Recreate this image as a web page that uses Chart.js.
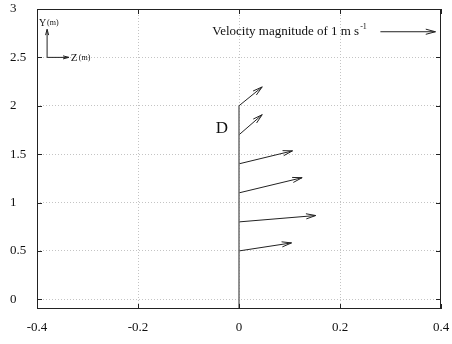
<!DOCTYPE html>
<html>
<head>
<meta charset="utf-8">
<script src="https://cdn.jsdelivr.net/npm/chart.js@4.4.0/dist/chart.umd.min.js"></script>
<style>
  body { margin: 0; background: #fff; }
  canvas { display: block; }
</style>
</head>
<body>
<canvas id="myChart" width="452" height="344"></canvas>
<script>
// velocity vectors: start on the pole at given heights, tips
const heights = [0.5, 0.8, 1.1, 1.4, 1.7, 2.0];
const tipZ = [0.104, 0.152, 0.125, 0.106, 0.046, 0.046];
const tipY = [0.583, 0.866, 1.257, 1.534, 1.908, 2.195];

const poleZ = [0, 0];
const poleY = [-0.1, 2.0];

// reference arrow (1 m/s)
const refZ = [0.28, 0.389];
const refY = [2.765, 2.765];
const refLabel = "Velocity magnitude of 1 m s";
const refSup = "-1";

// axis indicator in the corner
const axUpZ = [-0.380, -0.380];
const axUpY = [2.50, 2.79];
const axRightZ = [-0.380, -0.337];
const axRightY = [2.50, 2.50];

const siteLabel = "D";
const siteZ = -0.034, siteY = 1.765;

const xTicks = [-0.4, -0.2, 0, 0.2, 0.4];
const yTicks = [0, 0.5, 1, 1.5, 2, 2.5, 3];

const serif = "'Liberation Serif', 'Times New Roman', serif";

function seg(zs, ys, color, width, head) {
  return {
    data: zs.map((z, i) => ({x: z, y: ys[i]})),
    showLine: true,
    pointRadius: 0,
    borderColor: color,
    borderWidth: width,
    head: head
  };
}

const datasets = [seg(poleZ, poleY, "#6e6e6e", 1.5, 0)];
heights.forEach((h, i) => {
  datasets.push(seg([0, tipZ[i]], [h, tipY[i]], "#222", 1, 10));
});
datasets.push(seg(refZ, refY, "#222", 1, 10));
datasets.push(seg(axUpZ, axUpY, "#222", 1, 6));
datasets.push(seg(axRightZ, axRightY, "#222", 1, 6));

const extras = {
  id: "extras",
  afterDatasetsDraw(chart) {
    const ctx = chart.ctx;
    const a = chart.chartArea;
    const xs = chart.scales.x, ys = chart.scales.y;
    ctx.save();

    // arrow heads
    chart.data.datasets.forEach(ds => {
      if (!ds.head) return;
      const p = ds.data;
      const x1 = xs.getPixelForValue(p[0].x), y1 = ys.getPixelForValue(p[0].y);
      const x2 = xs.getPixelForValue(p[1].x), y2 = ys.getPixelForValue(p[1].y);
      const ang = Math.atan2(y2 - y1, x2 - x1);
      const L = ds.head, spread = 0.26;
      ctx.strokeStyle = ds.borderColor;
      ctx.lineWidth = 1;
      ctx.beginPath();
      ctx.moveTo(x2 - L * Math.cos(ang - spread), y2 - L * Math.sin(ang - spread));
      ctx.lineTo(x2, y2);
      ctx.lineTo(x2 - L * Math.cos(ang + spread), y2 - L * Math.sin(ang + spread));
      ctx.stroke();
    });

    // frame
    ctx.strokeStyle = "#222";
    ctx.lineWidth = 1;
    ctx.strokeRect(Math.round(a.left) + 0.5, Math.round(a.top) + 0.5,
      Math.round(a.right - a.left) - 1, Math.round(a.bottom - a.top) - 1);

    // inward tick marks on all four sides
    const tl = 5;
    ctx.beginPath();
    xTicks.forEach(v => {
      const px = Math.round(xs.getPixelForValue(v)) + 0.5;
      ctx.moveTo(px, a.bottom); ctx.lineTo(px, a.bottom - tl);
      ctx.moveTo(px, a.top); ctx.lineTo(px, a.top + tl);
    });
    yTicks.forEach(v => {
      const py = Math.round(ys.getPixelForValue(v)) + 0.5;
      ctx.moveTo(a.left, py); ctx.lineTo(a.left + tl, py);
      ctx.moveTo(a.right, py); ctx.lineTo(a.right - tl, py);
    });
    ctx.stroke();

    // texts
    ctx.fillStyle = "#111";
    ctx.textBaseline = "middle";
    ctx.textAlign = "left";
    ctx.font = "13px " + serif;
    const ry = ys.getPixelForValue(refY[0]);
    const rx = xs.getPixelForValue(-0.053);
    ctx.fillText(refLabel, rx, ry);
    const w = ctx.measureText(refLabel).width;
    ctx.font = "8px " + serif;
    ctx.fillText(refSup, rx + w + 1, ry - 5);

    ctx.font = "17px " + serif;
    ctx.textAlign = "center";
    ctx.fillText(siteLabel, xs.getPixelForValue(siteZ), ys.getPixelForValue(siteY));

    ctx.textAlign = "left";
    ctx.font = "10px " + serif;
    const yx = xs.getPixelForValue(-0.396), yy = ys.getPixelForValue(2.856);
    ctx.fillText("Y", yx, yy);
    ctx.font = "8px " + serif;
    ctx.fillText("(m)", yx + 8, yy);
    ctx.font = "11px " + serif;
    const zx = xs.getPixelForValue(-0.333), zy = ys.getPixelForValue(2.49);
    ctx.fillText("Z", zx, zy);
    ctx.font = "8px " + serif;
    ctx.fillText("(m)", zx + 8, zy);

    ctx.restore();
  }
};

new Chart("myChart", {
  type: "scatter",
  data: { datasets: datasets },
  options: {
    responsive: false,
    animation: false,
    layout: { padding: { left: 10, right: 11, top: 9, bottom: 0 } },
    plugins: { legend: { display: false }, tooltip: { enabled: false } },
    scales: {
      x: {
        type: "linear",
        min: -0.4,
        max: 0.4,
        afterBuildTicks: s => { s.ticks = xTicks.map(v => ({value: v})); },
        afterFit: s => { s.height = 35; s.paddingLeft = 0; s.paddingRight = 0; },
        grid: {
          color: c => (Math.abs(c.tick.value) > 0.39 ? "rgba(0,0,0,0)" : "#c4c4c4"),
          drawTicks: false,
          lineWidth: 1
        },
        border: { display: false, dash: [1, 2] },
        ticks: {
          color: "#111",
          font: { family: serif, size: 13 },
          padding: 11,
          maxRotation: 0,
          callback: v => String(v)
        }
      },
      y: {
        type: "linear",
        min: -0.1,
        max: 3,
        afterBuildTicks: s => { s.ticks = yTicks.map(v => ({value: v})); },
        afterFit: s => { s.width = 27; s.paddingTop = 0; s.paddingBottom = 0; },
        grid: {
          color: c => (c.tick.value > 2.9 ? "rgba(0,0,0,0)" : "#c4c4c4"),
          drawTicks: false,
          lineWidth: 1
        },
        border: { display: false, dash: [1, 2] },
        ticks: {
          color: "#111",
          font: { family: serif, size: 13 },
          crossAlign: "far",
          padding: 0,
          callback: v => String(v)
        }
      }
    }
  },
  plugins: [extras]
});
</script>
</body>
</html>
